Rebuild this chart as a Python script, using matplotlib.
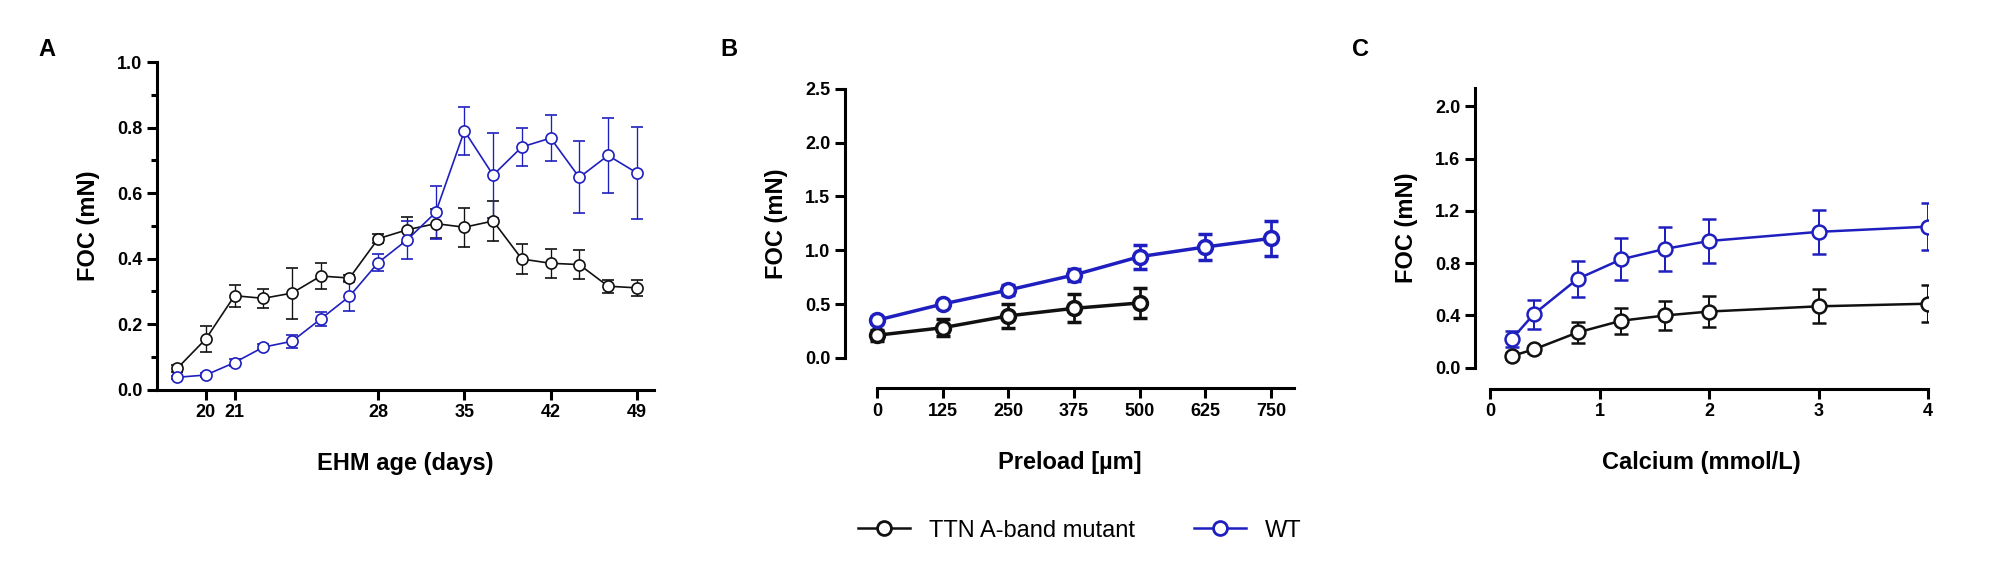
import matplotlib
matplotlib.use("Agg")
import matplotlib.pyplot as plt
from matplotlib.lines import Line2D
from matplotlib.ticker import MultipleLocator

BLUE = "#1f1fbf"
BLACK = "#111111"
TICK_FONT = ["Liberation Sans Narrow", "Liberation Sans", "DejaVu Sans"]
LAB_FONT = ["Liberation Sans", "DejaVu Sans"]

# ── Panel A: EHM age (equally spaced measurement points) ──────────────
a_idx = list(range(17))
a_tick_pos = [1, 2, 7, 10, 13, 16]
a_tick_lab = ["20", "21", "28", "35", "42", "49"]
a_mut = [0.065, 0.155, 0.287, 0.279, 0.295, 0.347, 0.341, 0.461, 0.488, 0.507,
         0.496, 0.515, 0.399, 0.386, 0.382, 0.316, 0.311]
a_mut_err = [0.01, 0.04, 0.034, 0.03, 0.078, 0.04, 0.01, 0.013, 0.04, 0.045,
             0.06, 0.06, 0.045, 0.044, 0.045, 0.02, 0.025]
a_wt = [0.038, 0.045, 0.083, 0.130, 0.148, 0.216, 0.285, 0.388, 0.457, 0.541,
        0.790, 0.655, 0.741, 0.768, 0.648, 0.715, 0.662]
a_wt_err = [0.005, 0.005, 0.01, 0.01, 0.02, 0.022, 0.045, 0.025, 0.058, 0.08,
            0.073, 0.13, 0.057, 0.07, 0.11, 0.115, 0.14]

# ── Panel B: preload ─────────────────────────────────────────────────
b_x_mut = [0, 125, 250, 375, 500]
b_mut = [0.21, 0.28, 0.39, 0.46, 0.51]
b_mut_err = [0.05, 0.08, 0.11, 0.13, 0.14]
b_x_wt = [0, 125, 250, 375, 500, 625, 750]
b_wt = [0.35, 0.50, 0.63, 0.77, 0.94, 1.03, 1.11]
b_wt_err = [0.03, 0.03, 0.05, 0.06, 0.11, 0.12, 0.16]

# ── Panel C: calcium ─────────────────────────────────────────────────
c_x = [0.2, 0.4, 0.8, 1.2, 1.6, 2, 3, 4]
c_mut = [0.09, 0.14, 0.27, 0.36, 0.40, 0.43, 0.47, 0.49]
c_mut_err = [0.02, 0.03, 0.08, 0.10, 0.11, 0.12, 0.13, 0.14]
c_wt = [0.22, 0.41, 0.68, 0.83, 0.91, 0.97, 1.04, 1.08]
c_wt_err = [0.06, 0.11, 0.14, 0.16, 0.17, 0.17, 0.17, 0.18]

fig = plt.figure(figsize=(20, 5.8), dpi=100)
fig.patch.set_facecolor("white")


def style(ax, ylab, xlab):
    for s in ("top", "right"):
        ax.spines[s].set_visible(False)
    for s in ("left", "bottom"):
        ax.spines[s].set_linewidth(2.2)
    ax.tick_params(width=2.2, length=7, labelsize=13)
    for lab in ax.get_xticklabels() + ax.get_yticklabels():
        lab.set_family(TICK_FONT)
        lab.set_fontweight("bold")
    ax.set_ylabel(ylab, fontsize=17, fontweight="bold", family=LAB_FONT, labelpad=12)
    ax.set_xlabel(xlab, fontsize=17, fontweight="bold", family=LAB_FONT, labelpad=22)


def series(ax, x, y, e, c, lw, ms, cap):
    ax.errorbar(x, y, yerr=e, color=c, lw=lw, marker="o", ms=ms, mfc="white",
                mec=c, mew=lw, ecolor=c, elinewidth=lw * 0.8, capsize=cap,
                capthick=lw * 0.8, zorder=3)


# Panel A
axA = fig.add_axes([0.0785, 0.328, 0.2485, 0.565])
series(axA, a_idx, a_mut, a_mut_err, BLACK, 1.2, 8, 4)
series(axA, a_idx, a_wt, a_wt_err, BLUE, 1.2, 8, 4)
axA.set_xlim(-0.7, 16.6)
axA.set_ylim(0, 1.0)
axA.set_xticks(a_tick_pos)
axA.set_yticks([0, 0.2, 0.4, 0.6, 0.8, 1.0])
axA.yaxis.set_minor_locator(MultipleLocator(0.1))
axA.tick_params(which="minor", width=2.2, length=4)
style(axA, "FOC (mN)", "EHM age (days)")
axA.set_xticklabels(a_tick_lab, family=TICK_FONT, fontweight="bold")
axA.set_yticklabels(["0.0", "0.2", "0.4", "0.6", "0.8", "1.0"], family=TICK_FONT, fontweight="bold")

# Panel B
axB = fig.add_axes([0.4225, 0.383, 0.2245, 0.464])
series(axB, b_x_mut, b_mut, b_mut_err, BLACK, 2.5, 10, 5)
series(axB, b_x_wt, b_wt, b_wt_err, BLUE, 2.5, 10, 5)
axB.set_xlim(-61, 794)
axB.set_ylim(0, 2.5)
axB.set_xticks(b_x_wt)
axB.set_yticks([0, 0.5, 1.0, 1.5, 2.0, 2.5])
axB.spines["bottom"].set_position(("outward", 22))
axB.spines["bottom"].set_bounds(0, 794)
style(axB, "FOC (mN)", "Preload [µm]")
axB.set_yticklabels(["0.0", "0.5", "1.0", "1.5", "2.0", "2.5"], family=TICK_FONT, fontweight="bold")

# Panel C
axC = fig.add_axes([0.7375, 0.366, 0.2265, 0.482])
series(axC, c_x, c_mut, c_mut_err, BLACK, 1.8, 10, 5)
series(axC, c_x, c_wt, c_wt_err, BLUE, 1.8, 10, 5)
axC.set_xlim(-0.137, 4.0)
axC.set_ylim(0, 2.14)
axC.set_xticks([0, 1, 2, 3, 4])
axC.set_yticks([0, 0.4, 0.8, 1.2, 1.6, 2.0])
axC.spines["bottom"].set_position(("outward", 15))
axC.spines["bottom"].set_bounds(0, 4)
style(axC, "FOC (mN)", "Calcium (mmol/L)")
axC.set_yticklabels(["0.0", "0.4", "0.8", "1.2", "1.6", "2.0"], family=TICK_FONT, fontweight="bold")

# panel letters
for x, s in [(0.019, "A"), (0.36, "B"), (0.676, "C")]:
    fig.text(x, 0.915, s, fontsize=17, fontweight="bold", family=LAB_FONT, va="center")

# legend
handles = [
    Line2D([], [], color=BLACK, lw=1.8, marker="o", ms=10, mfc="white", mew=2),
    Line2D([], [], color=BLUE, lw=1.8, marker="o", ms=10, mfc="white", mew=2),
]
fig.legend(handles, ["TTN A-band mutant", "WT"], loc="center",
           bbox_to_anchor=(0.54, 0.085), ncol=2, frameon=False,
           prop={"family": LAB_FONT, "size": 17}, columnspacing=2.5,
           handlelength=2.2)

fig.savefig("out.png", dpi=100, facecolor="white")
